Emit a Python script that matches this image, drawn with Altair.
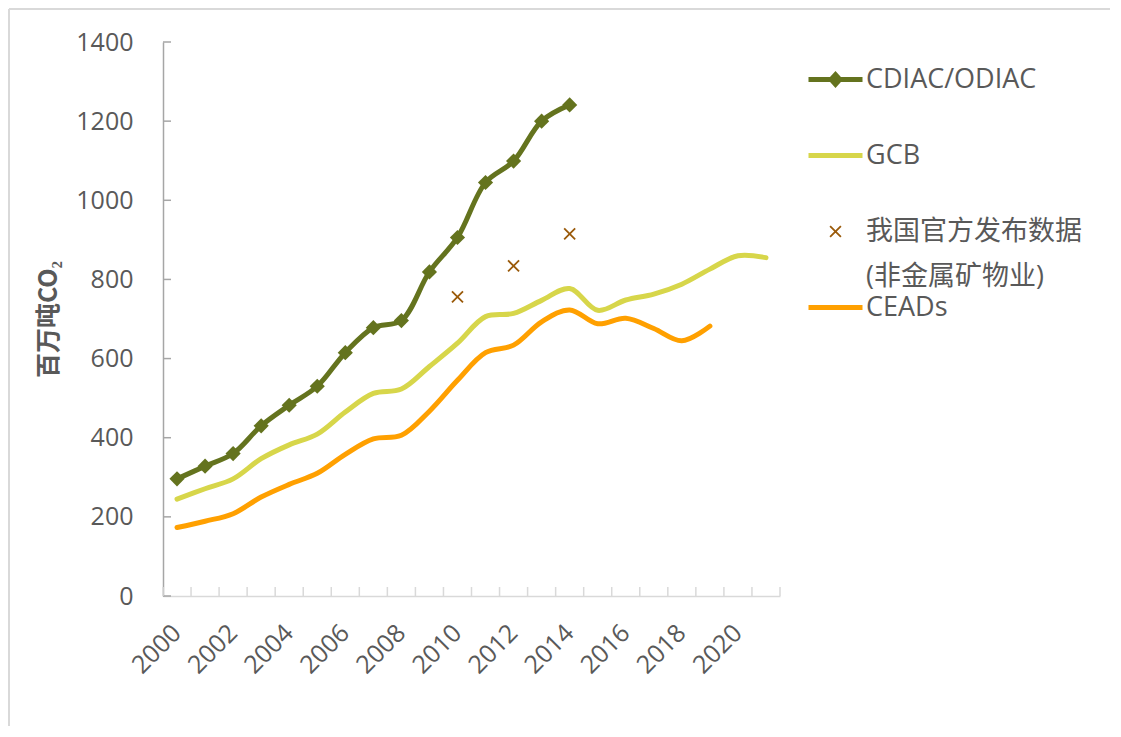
import altair as alt
import pandas as pd

# ---------------- data ----------------
cdiac_years = list(range(2000, 2015))
cdiac = [296, 328, 360, 430, 482, 530, 615, 678, 696, 819, 906, 1045, 1099, 1200, 1241]

gcb_years = list(range(2000, 2022))
gcb = [245, 271, 296, 347, 382, 409, 465, 512, 523, 580, 639, 706, 714, 747, 777,
       722, 748, 763, 788, 826, 860, 855]

ceads_years = list(range(2000, 2020))
ceads = [173, 189, 208, 250, 282, 310, 358, 397, 406, 467, 545, 615, 634, 693, 723,
         688, 702, 676, 645, 682]

official_years = [2010, 2012, 2014]
official = [756, 834, 915]

series_names = ["CDIAC/ODIAC", "GCB", "我国官方发布数据\n(非金属矿物业)", "CEADs"]
series_colors = ["#64731e", "#d7d64a", "#9a5a0a", "#ffa000"]

y_ticks = [0, 200, 400, 600, 800, 1000, 1200, 1400]
x_label_years = list(range(2000, 2021, 2))
all_years = list(range(2000, 2022))

# ---------------- frames ----------------
lines_df = pd.concat([
    pd.DataFrame({"year": cdiac_years, "value": cdiac, "series": series_names[0]}),
    pd.DataFrame({"year": gcb_years, "value": gcb, "series": series_names[1]}),
    pd.DataFrame({"year": ceads_years, "value": ceads, "series": series_names[3]}),
], ignore_index=True)
cdiac_df = lines_df[lines_df["series"] == series_names[0]]
official_df = pd.DataFrame({"year": official_years, "value": official, "series": series_names[2]})
ytick_df = pd.DataFrame({"value": y_ticks})
xtick_df = pd.DataFrame({"year": [y - 0.5 for y in all_years] + [all_years[-1] + 0.5]})

# ---------------- styling ----------------
W, H = 617, 554
PAD = {"left": 155, "top": 34, "right": 330, "bottom": 130}
FONT = "Open Sans, Noto Sans CJK SC, sans-serif"
CJK = "Noto Sans CJK SC"
TXT = "#595959"

xscale = alt.Scale(domain=[all_years[0] - 0.5, all_years[-1] + 0.5], nice=False, zero=False)
yscale = alt.Scale(domain=[y_ticks[0], y_ticks[-1]], nice=False)
cscale = alt.Scale(domain=series_names, range=series_colors)

xaxis = alt.Axis(values=x_label_years, format="d", ticks=False, grid=False,
                 domainColor="#d9d9d9", domainWidth=1.5, labelAngle=-45,
                 labelFont=FONT, labelFontSize=25, labelColor=TXT, labelPadding=24,
                 labelOffset=-9, labelOverlap=False, labelFlush=False, title=None)
yaxis = alt.Axis(values=y_ticks, format="d", ticks=False, grid=False, domainColor="#a6a6a6",
                 domainWidth=1.5, labelFont=FONT, labelFontSize=25, labelColor=TXT,
                 labelPadding=30, title="百万吨CO₂", titleFont=CJK, titleFontSize=25,
                 titleFontWeight="bold", titleColor=TXT, titlePadding=14)

X = alt.X("year:Q", scale=xscale, axis=xaxis)
Y = alt.Y("value:Q", scale=yscale, axis=yaxis)

IS_LINE = "(datum.value == 'GCB' || datum.value == 'CEADs')"
SYM_EXPR = ("datum.value == 'CDIAC/ODIAC' ? 'M-1,0L1,0M-0.16,0L0,-0.18L0.16,0L0,0.18Z' : "
            "(" + IS_LINE + " ? 'M-1,0L1,0' : 'M-0.2,-0.2L0.2,0.2M-0.2,0.2L0.2,-0.2')")
SW_EXPR = "(datum.value == 'CDIAC/ODIAC' || " + IS_LINE + ") ? 5 : 1.8"
LABEL_EXPR = ("length(split(datum.label, '\\n')) > 1 ? split(datum.label, '\\n') "
              ": [datum.label, ' ']")

legend = alt.Legend(
    title=None, orient="none", legendX=659, legendY=24,
    symbolType={"expr": SYM_EXPR}, symbolSize=2916,
    symbolStrokeWidth={"expr": SW_EXPR},
    labelFont=FONT, labelFontSize=27, labelColor=TXT, labelLimit=400,
    labelOffset=17, rowPadding=3,
    labelExpr=LABEL_EXPR,
)

C_leg = alt.Color("series:N", scale=cscale, legend=legend)
C = alt.Color("series:N", scale=cscale, legend=None)

legend_layer = alt.Chart(lines_df).mark_point(opacity=1, filled=False).encode(
    x=X, y=Y, color=C_leg).transform_filter("false")

# chart-area border (left and top edges, as in the reference), kept inside the canvas
canvas_right = W + PAD["right"]
canvas_bottom = H + PAD["bottom"]
frame_left = alt.Chart(ytick_df).mark_rule(color="#d9d9d9", strokeWidth=2).encode(
    x=alt.value(-154), y=alt.value(-33), y2=alt.value(canvas_bottom))
frame_top = alt.Chart(ytick_df).mark_rule(color="#d9d9d9", strokeWidth=2).encode(
    x=alt.value(-154), x2=alt.value(canvas_right), y=alt.value(-33))

ytick_layer = alt.Chart(ytick_df).mark_tick(
    orient="horizontal", color="#a6a6a6", thickness=1.5, size=8, opacity=1
).encode(y=Y, x=alt.value(4))
xtick_layer = alt.Chart(xtick_df).mark_tick(
    orient="vertical", color="#d9d9d9", thickness=1.5, size=9, opacity=1
).encode(x=X, y=alt.value(H - 4.5))

lines = alt.Chart(lines_df).mark_line(
    interpolate="catmull-rom", strokeWidth=5, strokeCap="round", strokeJoin="round"
).encode(x=X, y=Y, color=C, detail="series:N")

diamonds = alt.Chart(cdiac_df).mark_point(
    shape="diamond", filled=True, size=230, opacity=1
).encode(x=X, y=Y, color=C)

crosses = alt.Chart(official_df).mark_point(
    shape="M-1,-1L1,1M-1,1L1,-1", filled=False, size=121, strokeWidth=1.8, opacity=1
).encode(x=X, y=Y, color=C)

chart = alt.layer(legend_layer, frame_left, frame_top, ytick_layer, xtick_layer,
                  lines, diamonds, crosses).properties(
    width=W, height=H,
    autosize=alt.AutoSizeParams(type="none"),
    padding=PAD,
).configure(
    style={"guide-label": {"lineHeight": 45}}
).configure_view(stroke=None)

chart.save("out.html", embed_options={"renderer": "svg", "actions": False})
